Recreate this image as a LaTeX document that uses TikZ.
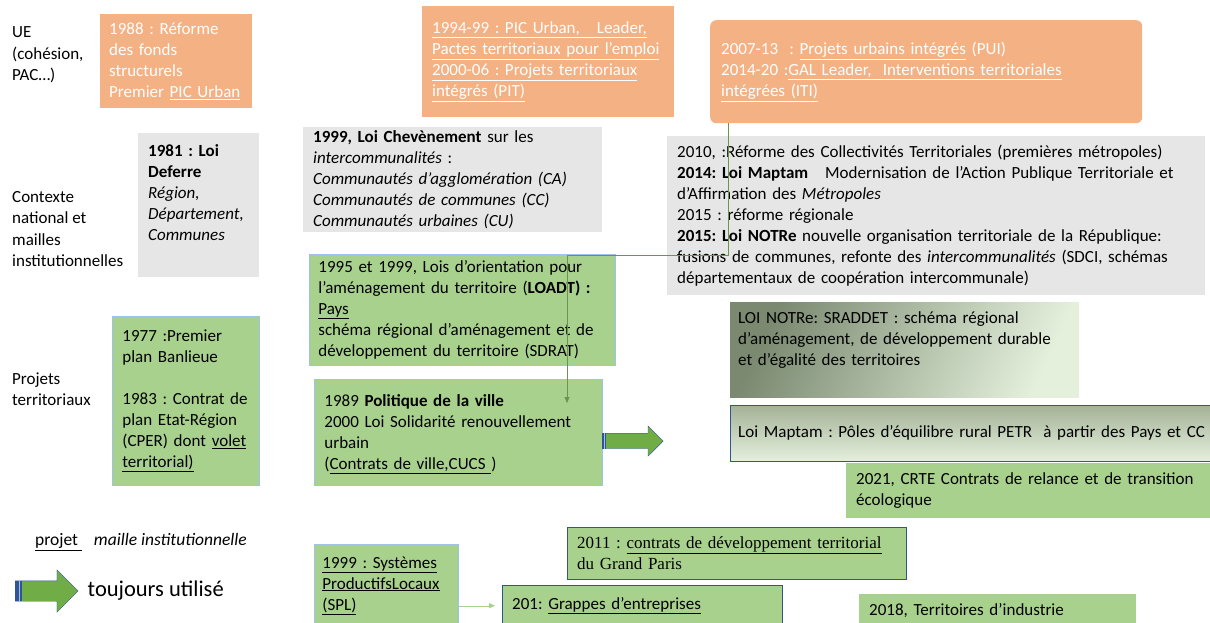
\documentclass[tikz,border=0pt]{standalone}
\usepackage{fontspec}
\setmainfont{Carlito}
\newfontfamily\timesfont{Liberation Serif}
\usetikzlibrary{calc,positioning,shapes.arrows,arrows.meta}

\newcommand\undl[1]{\underline{#1}}

\definecolor{eufill}{HTML}{F4B183}
\definecolor{natfill}{HTML}{E7E6E6}
\definecolor{projfill}{HTML}{A9D18E}
\definecolor{lightedge}{HTML}{9DC3E6}
\definecolor{darkedge}{HTML}{2F5597}
\definecolor{arrowfill}{HTML}{70AD47}
\definecolor{linkcol}{HTML}{6A9450}

\begin{document}
\frenchspacing
\begin{tikzpicture}[x=1pt,y=-1pt,
font=\fontsize{17}{21}\selectfont,
base/.style = {rectangle, anchor=north west, align=left, inner xsep=10pt, inner ysep=0pt},
eubox/.style = {base, fill=eufill, text=white},
natbox/.style = {base, fill=natfill},
projbox/.style = {base, fill=projfill, draw=lightedge, thick},
newbox/.style = {base, fill=projfill, draw=darkedge},
rowlabel/.style = {anchor=west, align=left, inner sep=0pt, font=\fontsize{17}{21.5}\selectfont},
keep/.style = {single arrow, draw=darkedge, fill=arrowfill, inner sep=0pt, anchor=tail},
link/.style = {draw=linkcol, -{Triangle[length=6pt,width=5pt]}}]

\useasboundingbox (0,0) rectangle (1210,622);

% row labels
\node[rowlabel] (rowue) at (12,55) {UE\\(cohésion,\\PAC…)};
\node[rowlabel] (rownat) at (12,229) {Contexte\\national et\\mailles\\institutionnelles};
\node[rowlabel] (rowproj) at (12,389) {Projets\\territoriaux};

% UE
\node[eubox, inner xsep=9pt, text width=134pt, minimum height=94pt] (eu1) at (100,14)
  {1988 : Réforme\\des fonds\\structurels\\Premier \undl{PIC Urban}};
\node[eubox, text width=232pt, minimum height=111pt] (eu2) at (422,6)
  {\undl{1994-99 : PIC Urban,\ \ \ Leader,}\\\undl{Pactes territoriaux pour l’emploi}\\
   \undl{2000-06 : Projets territoriaux}\\\undl{intégrés (PIT)}};
\node[eubox, rounded corners=6pt, inner xsep=11pt, text width=410pt, minimum height=103pt] (eu3) at (710,20)
  {2007-13\ \ : \undl{Projets urbains intégrés} (PUI)\\
   2014-20 :\undl{GAL Leader,\ \ Interventions territoriales}\\\undl{intégrées (ITI)}};

% contexte national
\node[natbox, text width=101pt, minimum height=144pt] (nat1) at (138,133)
  {\textbf{1981 : Loi}\\\textbf{Deferre}\\\textit{Région,}\\\textit{Département,}\\\textit{Communes}\\[5pt]\mbox{}};
\node[natbox, text width=279pt, minimum height=105pt] (nat2) at (303,127)
  {\textbf{1999, Loi Chevènement} sur les\\\textit{intercommunalités} :\\
   \textit{Communautés d’agglomération (CA)}\\\textit{Communautés de communes (CC)}\\
   \textit{Communautés urbaines (CU)}};
\node[natbox, text width=518pt, minimum height=159pt] (nat3) at (667,136)
  {2010, :Réforme des Collectivités Territoriales (premières métropoles)\\
   \textbf{2014: Loi Maptam}\ \ \ Modernisation de l’Action Publique Territoriale et\\
   d’Affirmation des \textit{Métropoles}\\
   2015 : réforme régionale\\
   \textbf{2015: Loi NOTRe} nouvelle organisation territoriale de la République:\\
   fusions de communes, refonte des \textit{intercommunalités} (SDCI, schémas\\
   départementaux de coopération intercommunale)};

% projets territoriaux
\node[projbox, inner xsep=9pt, text width=288pt, minimum height=111pt] (loadt) at (309,254)
  {1995 et 1999, Lois d'orientation pour\\l'aménagement du territoire (\textbf{LOADT) :}\\
   \undl{Pays}\\schéma régional d’aménagement et de\\développement du territoire (SDRAT)};
\node[projbox, text width=127pt, minimum height=169pt] (plan) at (112,316)
  {1977 :Premier\\plan Banlieue\\[21pt]1983 : Contrat de\\plan Etat-Région\\
   (CPER) dont \undl{volet}\\\undl{territorial)}};
\node[projbox, text width=268pt, minimum height=106pt] (ville) at (314,379)
  {\mbox{}\\[-6pt]1989 \textbf{Politique de la ville}\\2000 Loi Solidarité renouvellement\\
   urbain\\(\undl{Contrats de ville,CUCS })};
\node[base, text width=333pt, minimum height=95pt, inner xsep=8pt,
      left color={rgb,255:red,122;green,137;blue,112}, right color={rgb,255:red,228;green,240;blue,220},
      shading angle=65]
  (sraddet) at (730,302)
  {LOI NOTRe: SRADDET : schéma régional\\d’aménagement, de développement durable\\
   et d’égalité des territoires\\[2pt]\mbox{}};
\node[base, text width=474pt, minimum height=56pt, inner xsep=8pt, draw=darkedge,
      top color={rgb,255:red,165;green,178;blue,152}, bottom color={rgb,255:red,228;green,240;blue,220}]
  (maptam) at (730,405)
  {Loi Maptam : Pôles d’équilibre rural PETR\ \ à partir des Pays et CC};
\node[base, fill=projfill, text width=354pt, minimum height=55pt] (crte) at (846,463)
  {2021, CRTE Contrats de relance et de transition\\écologique};

% legend
\node[anchor=west, inner sep=0pt, font=\fontsize{17.5}{21}\selectfont] (legtext) at (35,542)
  {\undl{projet\ }\ \ \ \textit{maille institutionnelle}};
\node[keep, minimum height=63pt, minimum width=42pt, text height=10pt, text depth=10pt,
      single arrow head extend=11pt] (legarrow) at (15,591) {};
\fill[darkedge] (legarrow.before tail) rectangle ($(legarrow.after tail)+(7,0)$);
\draw[lightedge] ($(legarrow.before tail)+(4.5,0)$) -- ($(legarrow.after tail)+(4.5,0)$);
\node[anchor=west, inner sep=0pt, font=\fontsize{22.5}{26}\selectfont, right=9pt of legarrow] (legkeep) {toujours utilisé};

% still used
\node[keep, minimum height=61pt, minimum width=30pt, text height=7.5pt, text depth=7.5pt,
      single arrow head extend=7.5pt] (keeparrow) at (602,441) {};
\fill[darkedge] (keeparrow.before tail) rectangle ($(keeparrow.after tail)+(4,0)$);
\draw[lightedge] ($(keeparrow.before tail)+(2.5,0)$) -- ($(keeparrow.after tail)+(2.5,0)$);

% bottom row
\node[projbox, text width=128pt, minimum height=82pt, inner xsep=8pt] (spl) at (314,544)
  {\undl{1999 : Systèmes}\\\undl{ProductifsLocaux}\\\undl{(SPL)}};
\node[newbox, text width=319pt, minimum height=52pt, font=\timesfont\fontsize{17}{21}\selectfont] (gparis) at (567,527)
  {2011 : \undl{contrats de développement territorial}\\du Grand Paris};
\node[newbox, text width=260pt, minimum height=41pt] (grappes) at (502,585)
  {201: \undl{Grappes d’entreprises}};
\node[base, fill=projfill, text width=257pt, minimum height=32pt] (indus) at (859,594)
  {2018, Territoires d’industrie};

% connectors
\coordinate (bend) at (728,255);
\coordinate (villetip) at (567,403);
\path[link] (eu3.south -| bend) -- (bend) -| (villetip);
\path[link, draw=projfill, shorten >=7pt] (spl.east |- grappes.west) -- (grappes.west);
\end{tikzpicture}
\end{document}
